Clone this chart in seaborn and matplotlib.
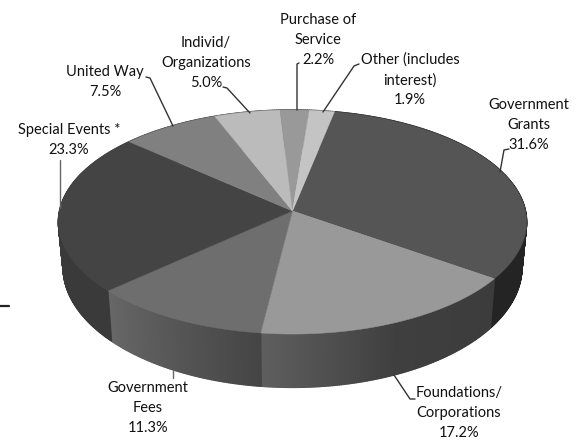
import numpy as np
import matplotlib
matplotlib.use('Agg')
import matplotlib.pyplot as plt
from matplotlib.collections import PolyCollection
import seaborn as sns

sns.set_theme(style='white')
plt.rcParams['font.family'] = ['Lato', 'DejaVu Sans']

# values, clockwise starting at Government Grants
labels = ['Government\nGrants', 'Foundations/\nCorporations', 'Government\nFees',
          'Special Events *', 'United Way', 'Individ/\nOrganizations',
          'Purchase of\nService', 'Other (includes\ninterest)']
shares = [31.6, 17.2, 11.3, 23.3, 7.5, 5.0, 2.2, 1.9]
top_colors = ['#555555', '#999999', '#6e6e6e', '#444444',
              '#808080', '#bbbbbb', '#999999', '#c4c4c4']
side_colors = [['#222222', '#242424'], ['#3c3c3c', '#3f3f3f', '#5e5e5e'],
               ['#454545', '#676767'], ['#3a3a3a', '#3a3a3a', '#474747'],
               ['#444444', '#444444'], ['#444444', '#444444'],
               ['#444444', '#444444'], ['#444444', '#444444']]

# label centres in pixels
label_x = [529, 459, 148, 69, 105, 206, 318, 410]
label_y = [125, 413, 408, 140, 82, 63, 40, 80]

# leader lines in pixels
leaders = [([509, 504, 500], [149, 150, 172], '#333333'),
           ([415, 410, 394], [399, 399, 375], '#333333'),
           ([173, 173], [370, 378], '#666666'),
           ([60, 60], [160, 208], '#666666'),
           ([146, 150, 173], [77, 78, 126], '#333333'),
           ([223, 227, 250], [87, 88, 113], '#333333'),
           ([299, 297, 297], [63, 64, 110], '#333333'),
           ([359, 354, 323], [64, 66, 112], '#333333')]

# pie projection
cx, cy = 292.5, 211
rx, ry = 233, 111
persp = -0.098
start_angle = 11.4


def project(theta):
    u = np.sin(np.radians(theta))
    v = -np.cos(np.radians(theta))
    w = 1 + persp * v
    return cx + rx * u / w, cy + ry * v / w


def project_bottom(theta):
    x, y = project(theta)
    return cx + 0.98 * (x - cx), cy + 44.4 + 1.0727 * (y - cy)


fig, ax = plt.subplots(figsize=(5.84, 4.40), dpi=100)
fig.subplots_adjust(0, 0, 1, 1)
ax.set_xlim(0, 584)
ax.set_ylim(440, 0)
ax.axis('off')

edges = start_angle + np.cumsum([0] + shares) * 3.6

# side wall first, the top covers the back of it
for i in range(len(shares)):
    n = max(int(edges[i + 1] - edges[i]), 2) * 2
    th = np.linspace(edges[i], edges[i + 1], n + 1)
    xt, yt = project(th)
    xb, yb = project_bottom(th)
    quads = [[(xt[k], yt[k]), (xt[k + 1], yt[k + 1]), (xb[k + 1], yb[k + 1]), (xb[k], yb[k])]
             for k in range(n)]
    pal = sns.blend_palette(side_colors[i], n)
    ax.add_collection(PolyCollection(quads, facecolors=pal, edgecolors=pal, linewidths=1.0))

# top of the pie
for i in range(len(shares)):
    th = np.linspace(edges[i], edges[i + 1], 120)
    xt, yt = project(th)
    ax.fill(np.r_[cx, xt], np.r_[cy, yt], color=top_colors[i], lw=0.3)

for xs, ys, col in leaders:
    ax.plot(xs, ys, color=col, lw=1)

# stray mark at the left edge
ax.plot([0, 9], [306, 306], color='#222222', lw=1.6)

for name, share, x, y in zip(labels, shares, label_x, label_y):
    ax.text(x, y, f'{name}\n{share:.1f}%', ha='center', va='center',
            fontsize=10.5, color='#111111', linespacing=1.53)

fig.savefig('out.png', dpi=100)
